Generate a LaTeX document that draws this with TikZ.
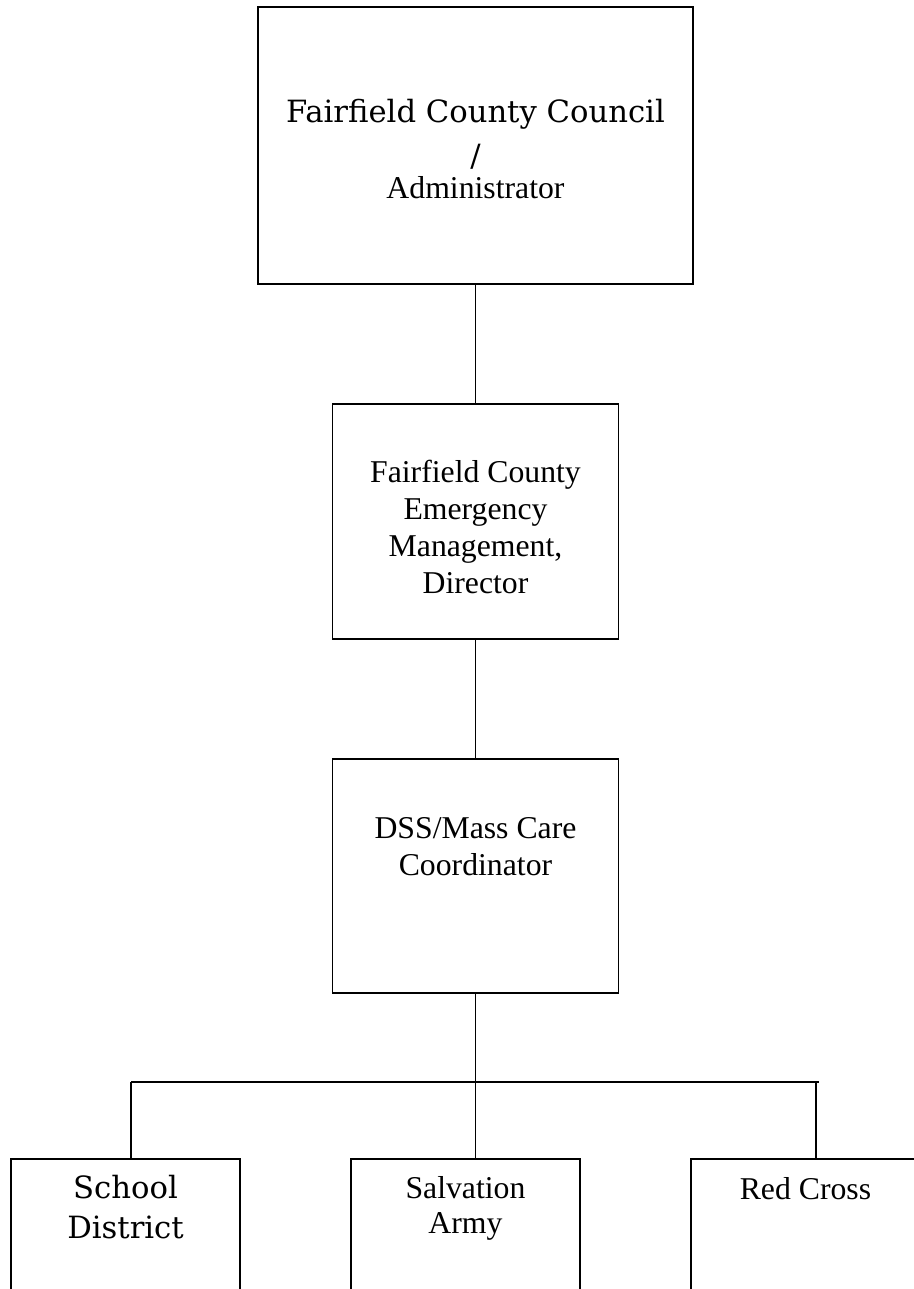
\documentclass[tikz,border=0pt]{standalone}
\usepackage{fontspec}
\setmainfont{Liberation Serif}
\newfontfamily\schfont{DejaVu Serif}
\begin{document}
\begin{tikzpicture}[x=0.75pt,y=-0.75pt,
  box/.style={draw=black, line width=1.3pt, rectangle, inner sep=0pt},
  txt/.style={anchor=base, inner sep=0pt, font=\fontsize{23.8}{28}\selectfont},
  wtxt/.style={anchor=base, inner sep=0pt, font=\schfont\fontsize{23}{28}\selectfont},
  link/.style={line width=1.3pt}]
\useasboundingbox (0,0) rectangle (914,1289);
\clip (0,0) rectangle (914,1289);
\fill[white] (0,0) rectangle (914,1289);
% boxes
\node[box, minimum width=326.25pt, minimum height=207.75pt] (council) at (475.5,145.5) {};
\node[box, minimum width=214.5pt, minimum height=176.25pt] (ema) at (475.5,521.5) {};
\node[box, minimum width=214.5pt, minimum height=175.5pt] (dss) at (475.5,876) {};
\node[box, minimum width=171.75pt, minimum height=135.75pt] (school) at (125.5,1249.5) {};
\node[box, minimum width=171.75pt, minimum height=135.75pt] (salv) at (465.5,1249.5) {};
\node[box, minimum width=171.75pt, minimum height=135.75pt] (redcross) at (805.5,1249.5) {};
% texts
\node[wtxt] (councilA) at (475.5,122) {Fairfield County Council};
\node[wtxt] (councilB) at (475.5,166) {/};
\node[txt] (councilC) at (475.5,198) {Administrator};
\node[txt] (emaA) at (475.5,482) {Fairfield County};
\node[txt] (emaB) at (475.5,519) {Emergency};
\node[txt] (emaC) at (475.5,556) {Management,};
\node[txt] (emaD) at (475.5,593) {Director};
\node[txt] (dssA) at (475.5,838) {DSS/Mass Care};
\node[txt] (dssB) at (475.5,875) {Coordinator};
\node[wtxt] (schoolA) at (125.5,1198) {School};
\node[wtxt] (schoolB) at (125.5,1238) {District};
\node[txt] (salvA) at (465.5,1198) {Salvation};
\node[txt] (salvB) at (465.5,1233) {Army};
\node[txt] (redA) at (805.5,1199) {Red Cross};
% connectors
\coordinate (barL) at (131,1082);
\coordinate (barR) at (819,1082);
\coordinate (dropR) at (816,1082);
\draw[link] (council.south) -- (ema.north);
\draw[link] (ema.south) -- (dss.north);
\draw[link] (dss.south) -- (dss.south |- salv.north);
\draw[link] (barL) -- (barR);
\draw[link] (barL) -- (barL |- school.north);
\draw[link] (dropR) -- (dropR |- redcross.north);
\end{tikzpicture}
\end{document}
